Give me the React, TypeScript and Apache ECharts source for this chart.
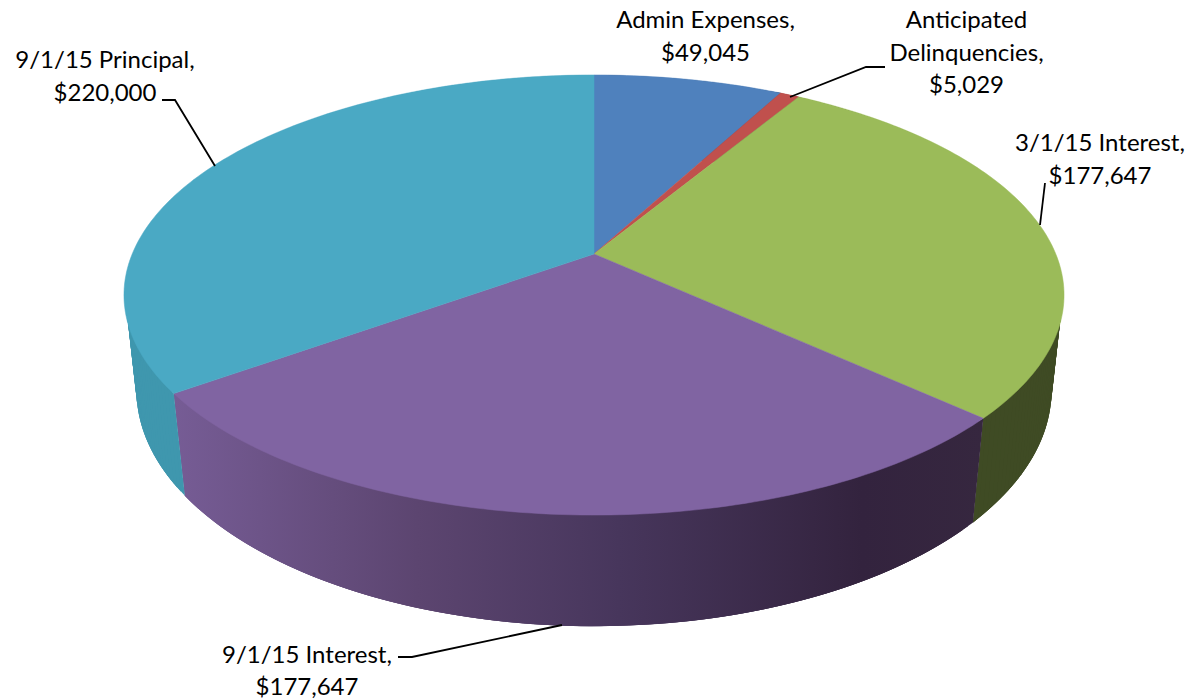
import React, { useEffect, useRef } from "react";
import * as echarts from "echarts";

const categories = ["Admin Expenses", "Anticipated Delinquencies", "3/1/15 Interest", "9/1/15 Interest", "9/1/15 Principal"];
const values = [49045, 5029, 177647, 177647, 220000];
const topColors = ["#4f81bd", "#c0504d", "#9bbb59", "#8064a2", "#4aa9c4"];
const sideColors: any[] = [
  "#2f4d71",
  "#73302e",
  "#3f4b24",
  {
    type: "linear", x: 175, y: 0, x2: 983, y2: 0, global: true,
    colorStops: [
      { offset: 0, color: "#765c95" },
      { offset: 0.3, color: "#5c4570" },
      { offset: 0.55, color: "#47365c" },
      { offset: 0.85, color: "#33233e" },
      { offset: 1, color: "#36273f" },
    ],
  },
  "#3f97ae",
];

// Perspective projection of the pie's two discs on to the page
const K = 0.1864;
const TOP = { cx: 594, cy: 254, a: 461.8, b: 212.4 };
const BOTTOM = { cx: 594, cy: 346, a: 449.6, b: 228 };
const project = (disc: typeof TOP, theta: number, r = 1) => {
  const u = r * Math.sin(theta);
  const v = r * Math.cos(theta);
  const w = 1 + K * v;
  return [disc.cx + (disc.a * u) / w, disc.cy - (disc.b * v) / w];
};

const total = values.reduce((s, v) => s + v, 0);
const sliceAngles = (i: number) => {
  const before = values.slice(0, i).reduce((s, v) => s + v, 0);
  return [(before / total) * 2 * Math.PI, ((before + values[i]) / total) * 2 * Math.PI];
};
const stepsOf = (a0: number, a1: number) => Math.max(2, Math.ceil(((a1 - a0) * 180) / Math.PI));
const arc = (disc: typeof TOP, a0: number, a1: number) => {
  const n = stepsOf(a0, a1);
  const pts: number[][] = [];
  for (let k = 0; k <= n; k++) pts.push(project(disc, a0 + ((a1 - a0) * k) / n));
  return pts;
};

const labelLines = [
  ["Admin Expenses,"],
  ["Anticipated", "Delinquencies,"],
  ["3/1/15 Interest,"],
  ["9/1/15 Interest,"],
  ["9/1/15 Principal,"],
];
const labelAnchors = [
  { x: 705.5, y: 18.5 },
  { x: 966.5, y: 18.5 },
  { x: 1100, y: 141.5 },
  { x: 307, y: 653 },
  { x: 105, y: 58.5 },
];
const leaders = [
  [[790, 97], [866, 67], [885, 67]],
  [[1040, 225], [1045, 183]],
  [[562, 625], [412, 657], [398, 657]],
  [[215, 166], [175, 100], [162, 100]],
];

export default function App() {
  const ref = useRef<HTMLDivElement>(null);
  useEffect(() => {
    document.body.style.margin = "0";
    const chart = echarts.init(ref.current!, undefined, { renderer: "svg" });
    const money = (v: number) => "$" + v.toLocaleString("en-US");
    const lineHeight = 32.5;
    const texts: any[] = [];
    labelAnchors.forEach((l, i) => {
      const all = [...labelLines[i], money(values[i])];
      all.forEach((t, j) => {
        texts.push({
          type: "text",
          x: l.x,
          y: l.y + j * lineHeight,
          silent: true,
          style: {
            text: t,
            fill: "#000",
            font: '24px Lato, "Open Sans", sans-serif',
            textAlign: "center",
            textVerticalAlign: "middle",
          },
        });
      });
    });
    const lines = leaders.map((pts) => ({
      type: "polyline",
      silent: true,
      z: 10,
      shape: { points: pts },
      style: { stroke: "#000", lineWidth: 1.8, fill: "none" },
    }));
    chart.setOption({
      animation: false,
      backgroundColor: "#fff",
      series: [
        {
          type: "custom",
          name: "side",
          coordinateSystem: "none",
          silent: true,
          z: 1,
          data: values,
          renderItem: (p: any) => {
            const [a0, a1] = sliceAngles(p.dataIndex);
            const n = stepsOf(a0, a1);
            const fill = sideColors[p.dataIndex];
            const children: any[] = [];
            const at = (k: number) => a0 + ((a1 - a0) * k) / n;
            const inset = (k: number) => (k === 0 || k === n ? 1 : 0.997);
            // overlapping strips, so that no seam shows between neighbours
            for (let k = 0; k < n; k++) {
              const e = Math.min(k + 3, n);
              children.push({
                type: "polygon",
                shape: {
                  points: [
                    project(TOP, at(k), inset(k)),
                    project(TOP, at(e), inset(e)),
                    project(BOTTOM, at(e)),
                    project(BOTTOM, at(k)),
                  ],
                },
                style: { fill },
              });
            }
            return { type: "group", children };
          },
        },
        {
          type: "custom",
          name: "top",
          coordinateSystem: "none",
          silent: true,
          z: 2,
          data: values,
          renderItem: (p: any) => {
            const [a0, a1] = sliceAngles(p.dataIndex);
            const pts = [[TOP.cx, TOP.cy], ...arc(TOP, a0, a1)];
            const color = topColors[p.dataIndex];
            return {
              type: "polygon",
              shape: { points: pts },
              style: { fill: color, stroke: color, lineWidth: 0.5 },
            };
          },
        },
      ],
      graphic: { elements: [...texts, ...lines] },
    });
    return () => chart.dispose();
  }, []);
  return <div ref={ref} style={{ position: "absolute", left: 0, top: 0, width: 1191, height: 700 }} />;
}
